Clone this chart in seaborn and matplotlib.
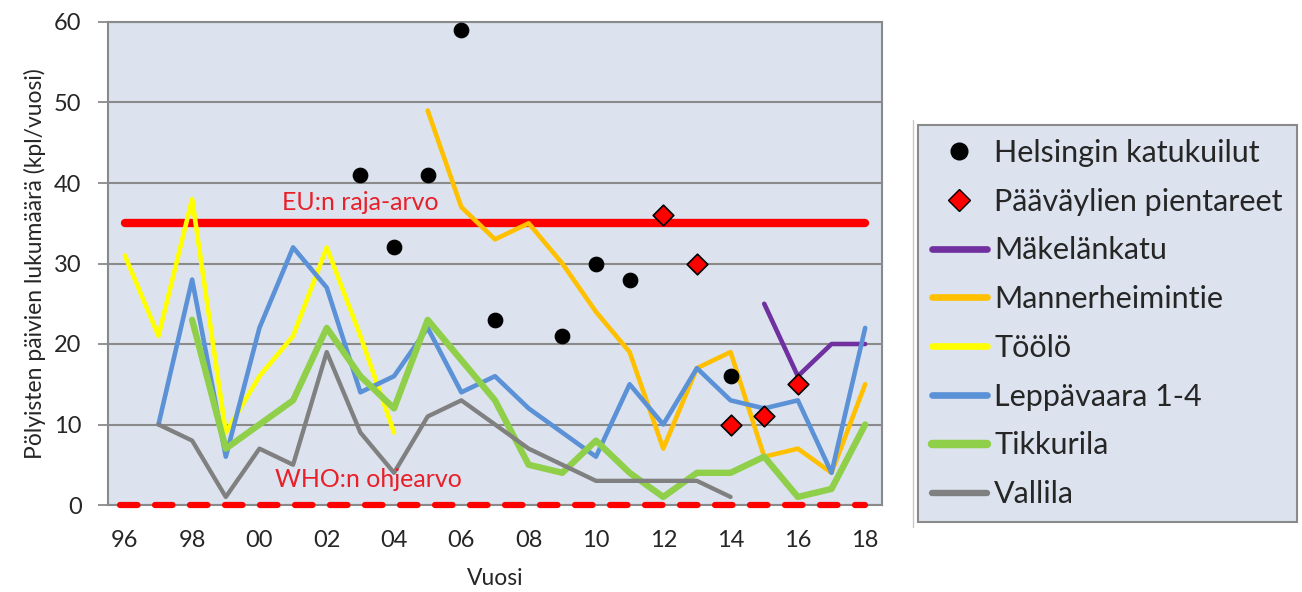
import seaborn as sns
import matplotlib.pyplot as plt
import numpy as np
from matplotlib.lines import Line2D

nan = np.nan

years = ['96', '97', '98', '99', '00', '01', '02', '03', '04', '05', '06', '07',
         '08', '09', '10', '11', '12', '13', '14', '15', '16', '17', '18']

katukuilut = [nan, nan, nan, nan, nan, nan, nan, 41, 32, 41, 59, 23,
              nan, 21, 30, 28, nan, nan, 16, nan, nan, nan, nan]
pientareet = [nan, nan, nan, nan, nan, nan, nan, nan, nan, nan, nan, nan,
              nan, nan, nan, nan, 36, 30, 10, 11, 15, nan, nan]
makelankatu = [nan, nan, nan, nan, nan, nan, nan, nan, nan, nan, nan, nan,
               nan, nan, nan, nan, nan, nan, nan, 25, 16, 20, 20]
mannerheimintie = [nan, nan, nan, nan, nan, nan, nan, nan, nan, 49, 37, 33,
                   35, 30, 24, 19, 7, 17, 19, 6, 7, 4, 15]
toolo = [31, 21, 38, 9, 16, 21, 32, 21, 9, nan, nan, nan,
         nan, nan, nan, nan, nan, nan, nan, nan, nan, nan, nan]
leppavaara = [nan, 10, 28, 6, 22, 32, 27, 14, 16, 22, 14, 16,
              12, 9, 6, 15, 10, 17, 13, 12, 13, 4, 22]
tikkurila = [nan, nan, 23, 7, 10, 13, 22, 16, 12, 23, 18, 13,
             5, 4, 8, 4, 1, 4, 4, 6, 1, 2, 10]
vallila = [nan, 10, 8, 1, 7, 5, 19, 9, 4, 11, 13, 10,
           7, 5, 3, 3, 3, 3, 1, nan, nan, nan, nan]

eu_limit = 35
who_limit = 0

bg = '#dce3ee'
grid_col = '#8a8a8a'

sns.set_style('white')
plt.rcParams['font.family'] = ['Lato', 'DejaVu Sans']

fig = plt.figure(figsize=(13.02, 5.92), dpi=100)
ax = fig.add_axes([108 / 1302, 1 - 505 / 592, 774 / 1302, 483 / 592])
ax.set_facecolor(bg)

x = np.arange(len(years))

# limit lines
ax.plot([x[0], x[-1]], [eu_limit, eu_limit], color='#ff0000', lw=6,
        solid_capstyle='round', zorder=3)
ax.plot([x[0] - 0.15, x[-1]], [who_limit, who_limit], color='#ff0000', lw=4.5,
        dashes=(2.8, 2.8), dash_capstyle='round', zorder=3, clip_on=False)

lines = [
    ('Mäkelänkatu', makelankatu, '#7030a0', 3.3),
    ('Mannerheimintie', mannerheimintie, '#ffc000', 3.3),
    ('Töölö', toolo, '#ffff00', 3.3),
    ('Leppävaara 1-4', leppavaara, '#5b91d6', 3.3),
    ('Tikkurila', tikkurila, '#8fcf4a', 4.6),
    ('Vallila', vallila, '#808080', 3.1),
]
for name, vals, col, lw in lines:
    sns.lineplot(x=x, y=vals, color=col, lw=lw, ax=ax, zorder=4, legend=False)

sns.scatterplot(x=x, y=katukuilut, color='black', s=110, edgecolor='black',
                ax=ax, zorder=6, legend=False)
sns.scatterplot(x=x, y=pientareet, color='#ff0000', marker='D', s=110,
                edgecolor='black', linewidth=1.2, ax=ax, zorder=6, legend=False)

ax.text(7.0, 37.6, 'EU:n raja-arvo', color='#e8202a', fontsize=18,
        ha='center', va='center', zorder=7)
ax.text(7.25, 3.2, 'WHO:n ohjearvo', color='#e8202a', fontsize=18,
        ha='center', va='center', zorder=7)

ax.set_xlim(-0.5, len(years) - 0.5)
ax.set_ylim(0, 60)
ax.set_yticks(range(0, 61, 10))
ax.yaxis.grid(True, color=grid_col, lw=1.5)
ax.set_axisbelow(True)
ax.set_xticks(x[::2])
ax.set_xticklabels(years[::2])
ax.set_xticks(np.arange(-0.5, len(years), 1), minor=True)
ax.tick_params(axis='x', which='major', length=0, pad=18, labelsize=17)
ax.tick_params(axis='x', which='minor', length=7, width=1.3, color=grid_col,
               direction='out')
ax.tick_params(axis='y', length=7, width=1.3, color=grid_col, labelsize=17,
               pad=12, left=True)
for side in ['left', 'right', 'bottom', 'top']:
    ax.spines[side].set_color(grid_col)
    ax.spines[side].set_linewidth(1.5)
    ax.spines[side].set_visible(True)

ax.set_xlabel('Vuosi', fontsize=16.5, labelpad=12)
ax.set_ylabel('Pölyisten päivien lukumäärä (kpl/vuosi)', fontsize=16.5,
              labelpad=6)

# separator line left of legend
fig.add_artist(Line2D([913 / 1302, 913 / 1302], [1 - 527 / 592, 1 - 120 / 592],
                      color='#c8c8c8', lw=1))

handles = [
    Line2D([], [], ls='none', marker='o', color='black', markersize=12),
    Line2D([], [], ls='none', marker='D', markerfacecolor='#ff0000',
           markeredgecolor='black', markersize=11),
]
labels = ['Helsingin katukuilut', 'Pääväylien pientareet']
for name, vals, col, lw in lines:
    handles.append(Line2D([], [], color=col, lw=lw + 1.5, solid_capstyle='round'))
    labels.append(name)

leg = fig.legend(handles, labels, loc='upper left',
                 bbox_to_anchor=(918 / 1302, 1 - 125 / 592),
                 borderaxespad=0, fontsize=22, frameon=True, fancybox=False,
                 facecolor=bg, edgecolor='#8a8a8a', framealpha=1,
                 handlelength=1.8, handletextpad=0.25, labelspacing=0.68,
                 borderpad=0.45)
leg.get_frame().set_linewidth(1.5)

fig.savefig('out.png', dpi=100)
